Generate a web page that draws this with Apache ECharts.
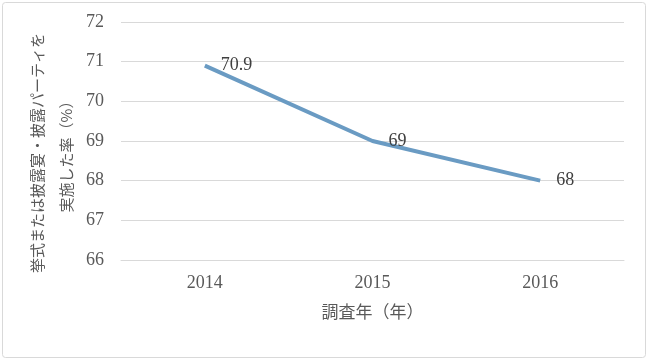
<!DOCTYPE html>
<html><head><meta charset="utf-8">
<script src="https://cdn.jsdelivr.net/npm/echarts@6/dist/echarts.min.js"></script>
<style>html,body{margin:0;padding:0;background:#fff}#c{width:650px;height:362px}</style>
</head><body><div id="c"></div>
<script>
const categories = ['2014', '2015', '2016'];
const rates = [70.9, 69, 68];
const yTicks = { min: 66, max: 72, interval: 1 };
const xTitle = '調査年（年）';
const yTitle = '挙式または披露宴・披露パーティを\n実施した率（%）';

const serif = '"Liberation Serif", "DejaVu Serif", "Noto Sans CJK JP", serif';
const chart = echarts.init(document.getElementById('c'));
chart.setOption({
  backgroundColor: '#fff',
  animation: false,
  graphic: [{
    type: 'rect', shape: { x: 2.5, y: 2.5, width: 643, height: 355, r: 3 },
    style: { fill: 'none', stroke: '#d9d9d9', lineWidth: 1 }, silent: true
  }, {
    type: 'text', x: 52, y: 153, rotation: Math.PI / 2, silent: true,
    style: {
      text: yTitle, fill: '#595959', fontFamily: '"Noto Sans CJK JP", sans-serif', fontSize: 15,
      lineHeight: 29, align: 'center', verticalAlign: 'middle'
    }
  }],
  grid: { left: 121, right: 26, top: 22, bottom: 102, containLabel: false, outerBoundsMode: 'none' },
  xAxis: {
    type: 'category', data: categories, boundaryGap: true,
    axisLine: { show: true, lineStyle: { color: '#d9d9d9', width: 1 } },
    axisTick: { show: false },
    axisLabel: { color: '#595959', fontFamily: serif, fontSize: 18, margin: 14 },
    name: xTitle, nameLocation: 'middle', nameGap: 43,
    nameTextStyle: { color: '#595959', fontFamily: '"Noto Sans CJK JP", serif', fontSize: 17 }
  },
  yAxis: {
    type: 'value', min: yTicks.min, max: yTicks.max, interval: yTicks.interval,
    axisLine: { show: false }, axisTick: { show: false },
    splitLine: { lineStyle: { color: '#d9d9d9', width: 1 } },
    axisLabel: { color: '#595959', fontFamily: serif, fontSize: 18, margin: 17 }
  },
  series: [{
    type: 'line', data: rates, symbol: 'circle', symbolSize: 0, showSymbol: true,
    itemStyle: { color: '#6a9bc3' },
    lineStyle: { color: '#6a9bc3', width: 4 },
    label: { show: true, position: 'right', distance: 16, color: '#404040', fontFamily: serif, fontSize: 18 }
  }]
});
</script></body></html>
